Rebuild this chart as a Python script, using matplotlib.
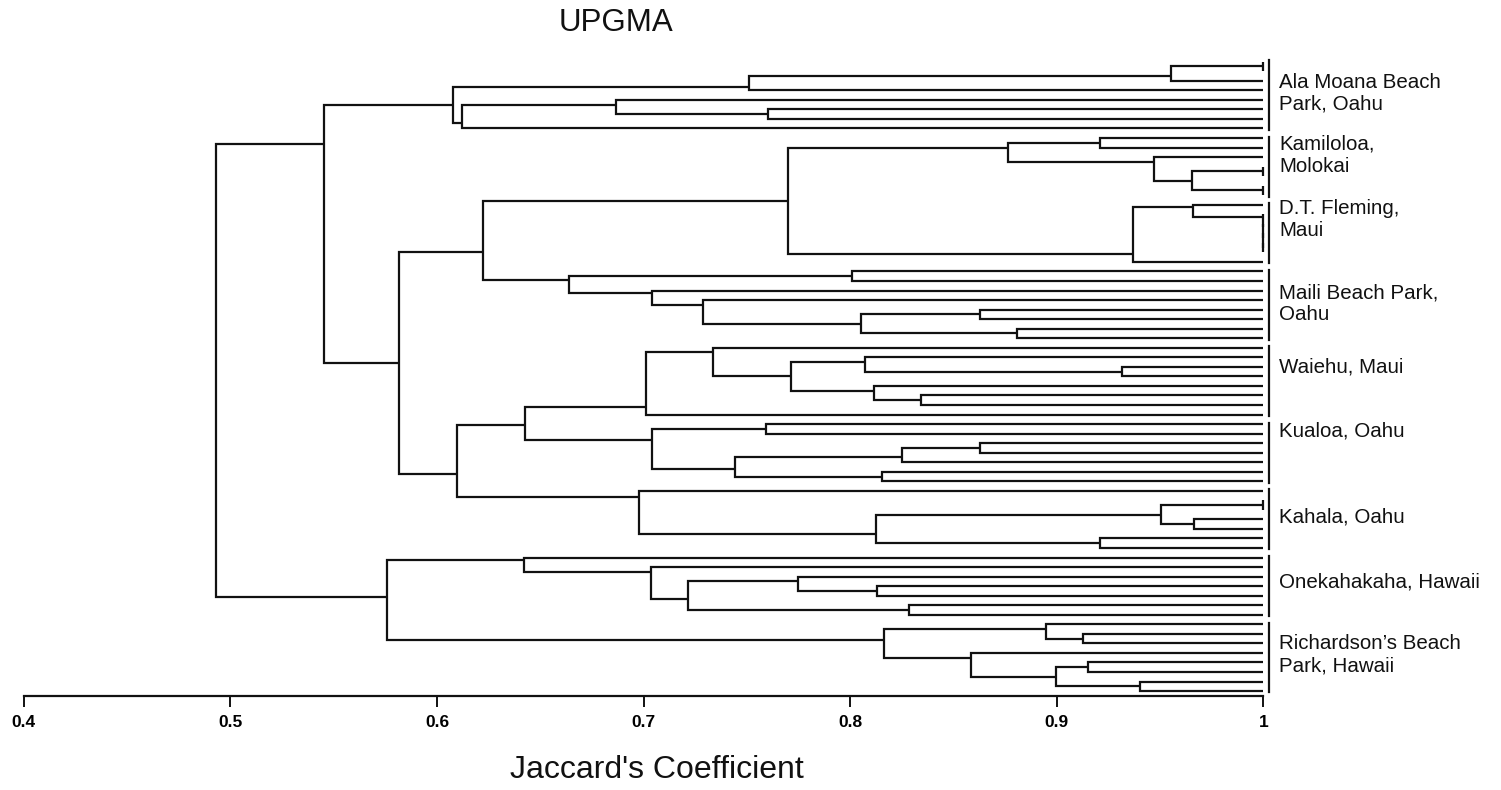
import matplotlib
matplotlib.use("Agg")
import matplotlib.pyplot as plt

# UPGMA tree on Jaccard similarity; a node is (similarity, upper branch, lower branch), L is one sample
L = None

ala_moana = (0.6077,
             (0.7510, (0.9552, (1.0, L, L), L), L),
             (0.6121, (0.6865, L, (0.7603, L, L)), L))
kamiloloa = (0.8762,
             (0.9209, L, L),
             (0.9470, L, (0.9652, (1.0, L, L), (1.0, L, L))))
dt_fleming = (0.9370,
              (0.9661, L, (1.0, L, (1.0, L, (1.0, L, (1.0, L, L))))),
              L)
maili = (0.6639,
         (0.8007, L, L),
         (0.7042, L, (0.7287, L, (0.8052, (0.8628, L, L), (0.8809, L, L)))))
waiehu = (0.7010,
          (0.7338, L, (0.7713, (0.8074, L, (0.9318, L, L)),
                              (0.8115, L, (0.8342, L, L)))),
          L)
kualoa = (0.7042,
          (0.7592, L, L),
          (0.7440, (0.8252, (0.8628, L, L), L), (0.8155, L, L)))
kahala = (0.6978,
          L,
          (0.8123, (0.9504, (1.0, L, L), (0.9664, L, L)), (0.9209, L, L)))
onekahakaha = (0.6421,
               L,
               (0.7034, L, (0.7216, (0.7749, L, (0.8131, L, L)), (0.8284, L, L))))
richardsons = (0.8163,
               (0.8947, L, (0.9125, L, L)),
               (0.8584, L, (0.8994, (0.9152, L, L), (0.9402, L, L))))

tree = (0.4929,
        (0.5453, ala_moana,
         (0.5816, (0.6224, (0.7697, kamiloloa, dt_fleming), maili),
                  (0.6098, (0.6426, waiehu, kualoa), kahala))),
        (0.5759, onekahakaha, richardsons))

site_trees = [ala_moana, kamiloloa, dt_fleming, maili, waiehu,
              kualoa, kahala, onekahakaha, richardsons]
site_names = ["Ala Moana Beach\nPark, Oahu", "Kamiloloa,\nMolokai", "D.T. Fleming,\nMaui",
              "Maili Beach Park,\nOahu", "Waiehu, Maui", "Kualoa, Oahu", "Kahala, Oahu",
              "Onekahakaha, Hawaii", "Richardson\u2019s Beach\nPark, Hawaii"]
xticks = [0.4, 0.5, 0.6, 0.7, 0.8, 0.9, 1.0]
xtick_labels = ["0.4", "0.5", "0.6", "0.7", "0.8", "0.9", "1"]

# label rows (in leaf units) as placed in the source figure
label_rows = [3.3, 9.8, 16.5, 25.4, 32.0, 38.7, 47.75, 54.6, 62.2]

FONT = ["Liberation Sans", "DejaVu Sans"]
plt.rcParams["font.family"] = FONT


def n_leaves(node):
    return 1 if node is None else n_leaves(node[1]) + n_leaves(node[2])


paths = []


def place(node, row):
    """returns (y, height, leaves, next row); collects elbow paths."""
    if node is None:
        return row, 1.0, 1, row + 1
    h, a, b = node
    ya, ha, na, row = place(a, row)
    yb, hb, nb, row = place(b, row)
    paths.append(([ha, h, h, hb], [ya, ya, yb, yb]))
    # the source plot pulls each join toward its smaller branch
    y = (nb * ya + na * yb) / (na + nb)
    return y, h, na + nb, row


place(tree, 0)
N = n_leaves(tree)

fig = plt.figure(figsize=(15.01, 7.90), dpi=100)
ax = fig.add_axes([23.8 / 1501, 1 - 696 / 790, 1239.6 / 1501, 646 / 790])
for xs, ys in paths:
    ax.plot(xs, ys, color="#111111", lw=1.6, solid_joinstyle="miter",
            solid_capstyle="butt", clip_on=False)

ax.set_xlim(0.4, 1.0)
ax.set_ylim(N - 1 + 0.52, -1.23)
for s in ("top", "left", "right"):
    ax.spines[s].set_visible(False)
ax.spines["bottom"].set_linewidth(1.6)
ax.spines["bottom"].set_color("#111111")
ax.set_yticks([])
ax.set_xticks(xticks)
ax.set_xticklabels(xtick_labels, fontweight="bold", fontsize=12.5)
ax.tick_params(axis="x", direction="out", length=8, width=1.4, pad=6, color="#111111")

# site brackets and names
start = 0
bx = 1.0 + 5.5 / 2066
for name, sub, row in zip(site_names, site_trees, label_rows):
    n = n_leaves(sub)
    ax.plot([bx, bx], [start - 0.15, start + n - 1 + 0.15], color="#111111",
            lw=1.6, clip_on=False)
    ax.text(1.0 + 16 / 2066, row, name, ha="left", va="center", fontsize=14.8,
            linespacing=1.2, color="#111111", clip_on=False)
    start += n

fig.text(616 / 1501, 1 - 23 / 790, "UPGMA", ha="center", va="center", fontsize=22.5,
         color="#111111")
fig.text(656.5 / 1501, 1 - 770 / 790, "Jaccard's Coefficient", ha="center", va="center",
         fontsize=23, color="#111111")

fig.savefig("out.png", dpi=100, facecolor="white")
